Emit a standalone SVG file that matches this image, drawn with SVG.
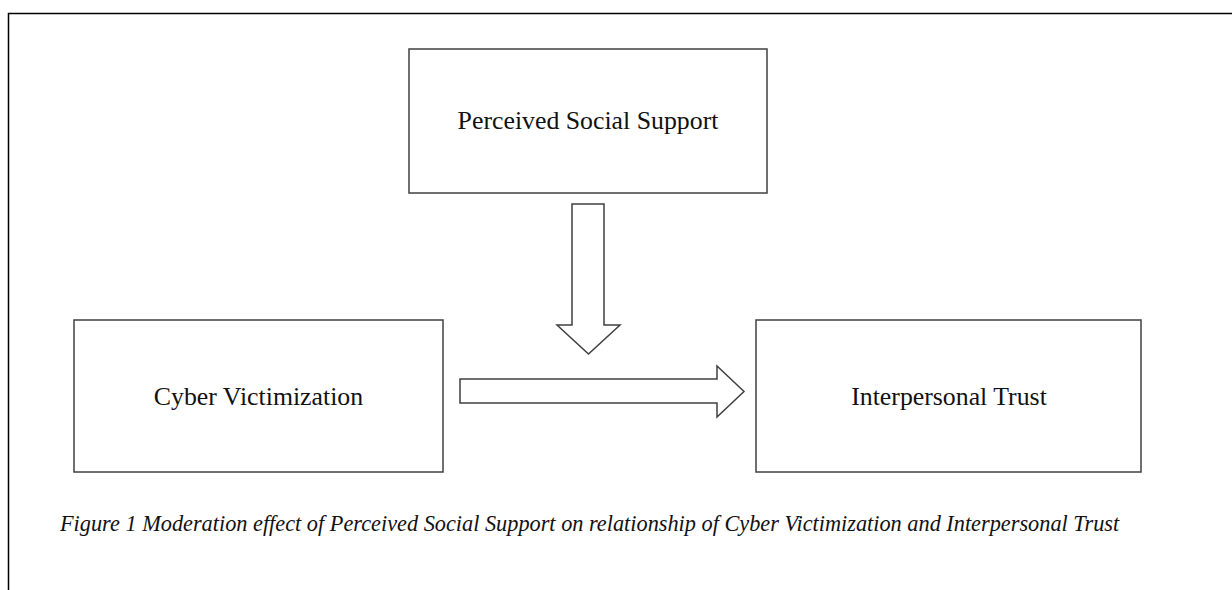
<svg xmlns="http://www.w3.org/2000/svg" width="1232" height="590" viewBox="0 0 1232 590">
<style>
.box{fill:#fff;stroke:#404040;stroke-width:1.5}
.arrow{fill:#fff;stroke:#404040;stroke-width:1.5;stroke-linejoin:miter}
.lbl{font-family:"Liberation Serif","Times New Roman",serif;font-size:25.8px;fill:#111;text-anchor:middle}
.cap{font-family:"Liberation Serif","Times New Roman",serif;font-size:22.3px;font-style:italic;fill:#111}
</style>
<rect x="0" y="0" width="1232" height="590" fill="#fff"/>
<path d="M8.5 590 V13.5 H1232" fill="none" stroke="#000" stroke-width="1.5"/>
<g id="node-pss">
<rect class="box" x="409" y="49" width="358" height="144"/>
<text class="lbl" x="588" y="129">Perceived Social Support</text>
</g>
<g id="node-cv">
<rect class="box" x="74" y="320" width="369" height="152"/>
<text class="lbl" x="258.5" y="405">Cyber Victimization</text>
</g>
<g id="node-it">
<rect class="box" x="756" y="320" width="385" height="152"/>
<text class="lbl" x="949" y="405">Interpersonal Trust</text>
</g>
<g id="connectors">
<polygon class="arrow" points="572,204 604,204 604,325 620,325 588.5,354 557,325 572,325"/>
<polygon class="arrow" points="460,379 717,379 717,366 744,391.5 717,417 717,403 460,403"/>
</g>
<text class="cap" x="60" y="531">Figure 1 Moderation effect of Perceived Social Support on relationship of Cyber Victimization and Interpersonal Trust</text>
</svg>
